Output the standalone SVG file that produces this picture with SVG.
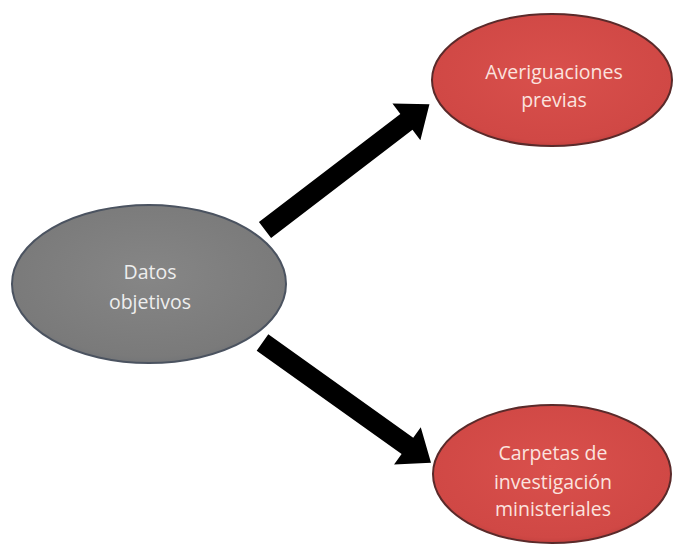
<svg xmlns="http://www.w3.org/2000/svg" width="674" height="547" viewBox="0 0 674 547">
<style>
  .lbl { font-family: "Open Sans", "Noto Sans", "DejaVu Sans", sans-serif; font-size: 19.5px; text-anchor: middle; }
  .g { fill: url(#gGray); stroke: #4b5360; stroke-width: 2; }
  .r { fill: url(#gRed); stroke: #5a2a2a; stroke-width: 2; }
  .gt { fill: #eeeeee; }
  .rt { fill: #fbe3df; }
  .arr { fill: #000; }
</style>
<defs>
  <radialGradient id="gGray" cx="50%" cy="45%" r="60%">
    <stop offset="0" stop-color="#868686"/>
    <stop offset="0.85" stop-color="#7a7a7a"/>
    <stop offset="1" stop-color="#6c6f74"/>
  </radialGradient>
  <radialGradient id="gRed" cx="50%" cy="45%" r="60%">
    <stop offset="0" stop-color="#d9504c"/>
    <stop offset="0.85" stop-color="#d04845"/>
    <stop offset="1" stop-color="#b83c3a"/>
  </radialGradient>
  <polygon id="arrowShape" points="0,-10 178,-10 178,-23 207,0 178,23 178,10 0,10"/>
</defs>
<rect width="674" height="547" fill="#ffffff"/>
<g id="connectors">
  <use href="#arrowShape" class="arr" transform="translate(265,230) rotate(-37.4)"/>
  <use href="#arrowShape" class="arr" transform="translate(262.5,342.5) rotate(35.5)"/>
</g>
<g id="datos">
  <ellipse class="g" cx="149" cy="284" rx="137" ry="79"/>
  <text class="lbl gt" x="150" y="279">Datos</text>
  <text class="lbl gt" x="150" y="309">objetivos</text>
</g>
<g id="averiguaciones">
  <ellipse class="r" cx="552" cy="80" rx="120" ry="66"/>
  <text class="lbl rt" x="554" y="79">Averiguaciones</text>
  <text class="lbl rt" x="554" y="107">previas</text>
</g>
<g id="carpetas">
  <ellipse class="r" cx="552" cy="474" rx="119" ry="69"/>
  <text class="lbl rt" x="553" y="460">Carpetas de</text>
  <text class="lbl rt" x="553" y="489">investigación</text>
  <text class="lbl rt" x="553" y="516">ministeriales</text>
</g>
</svg>
